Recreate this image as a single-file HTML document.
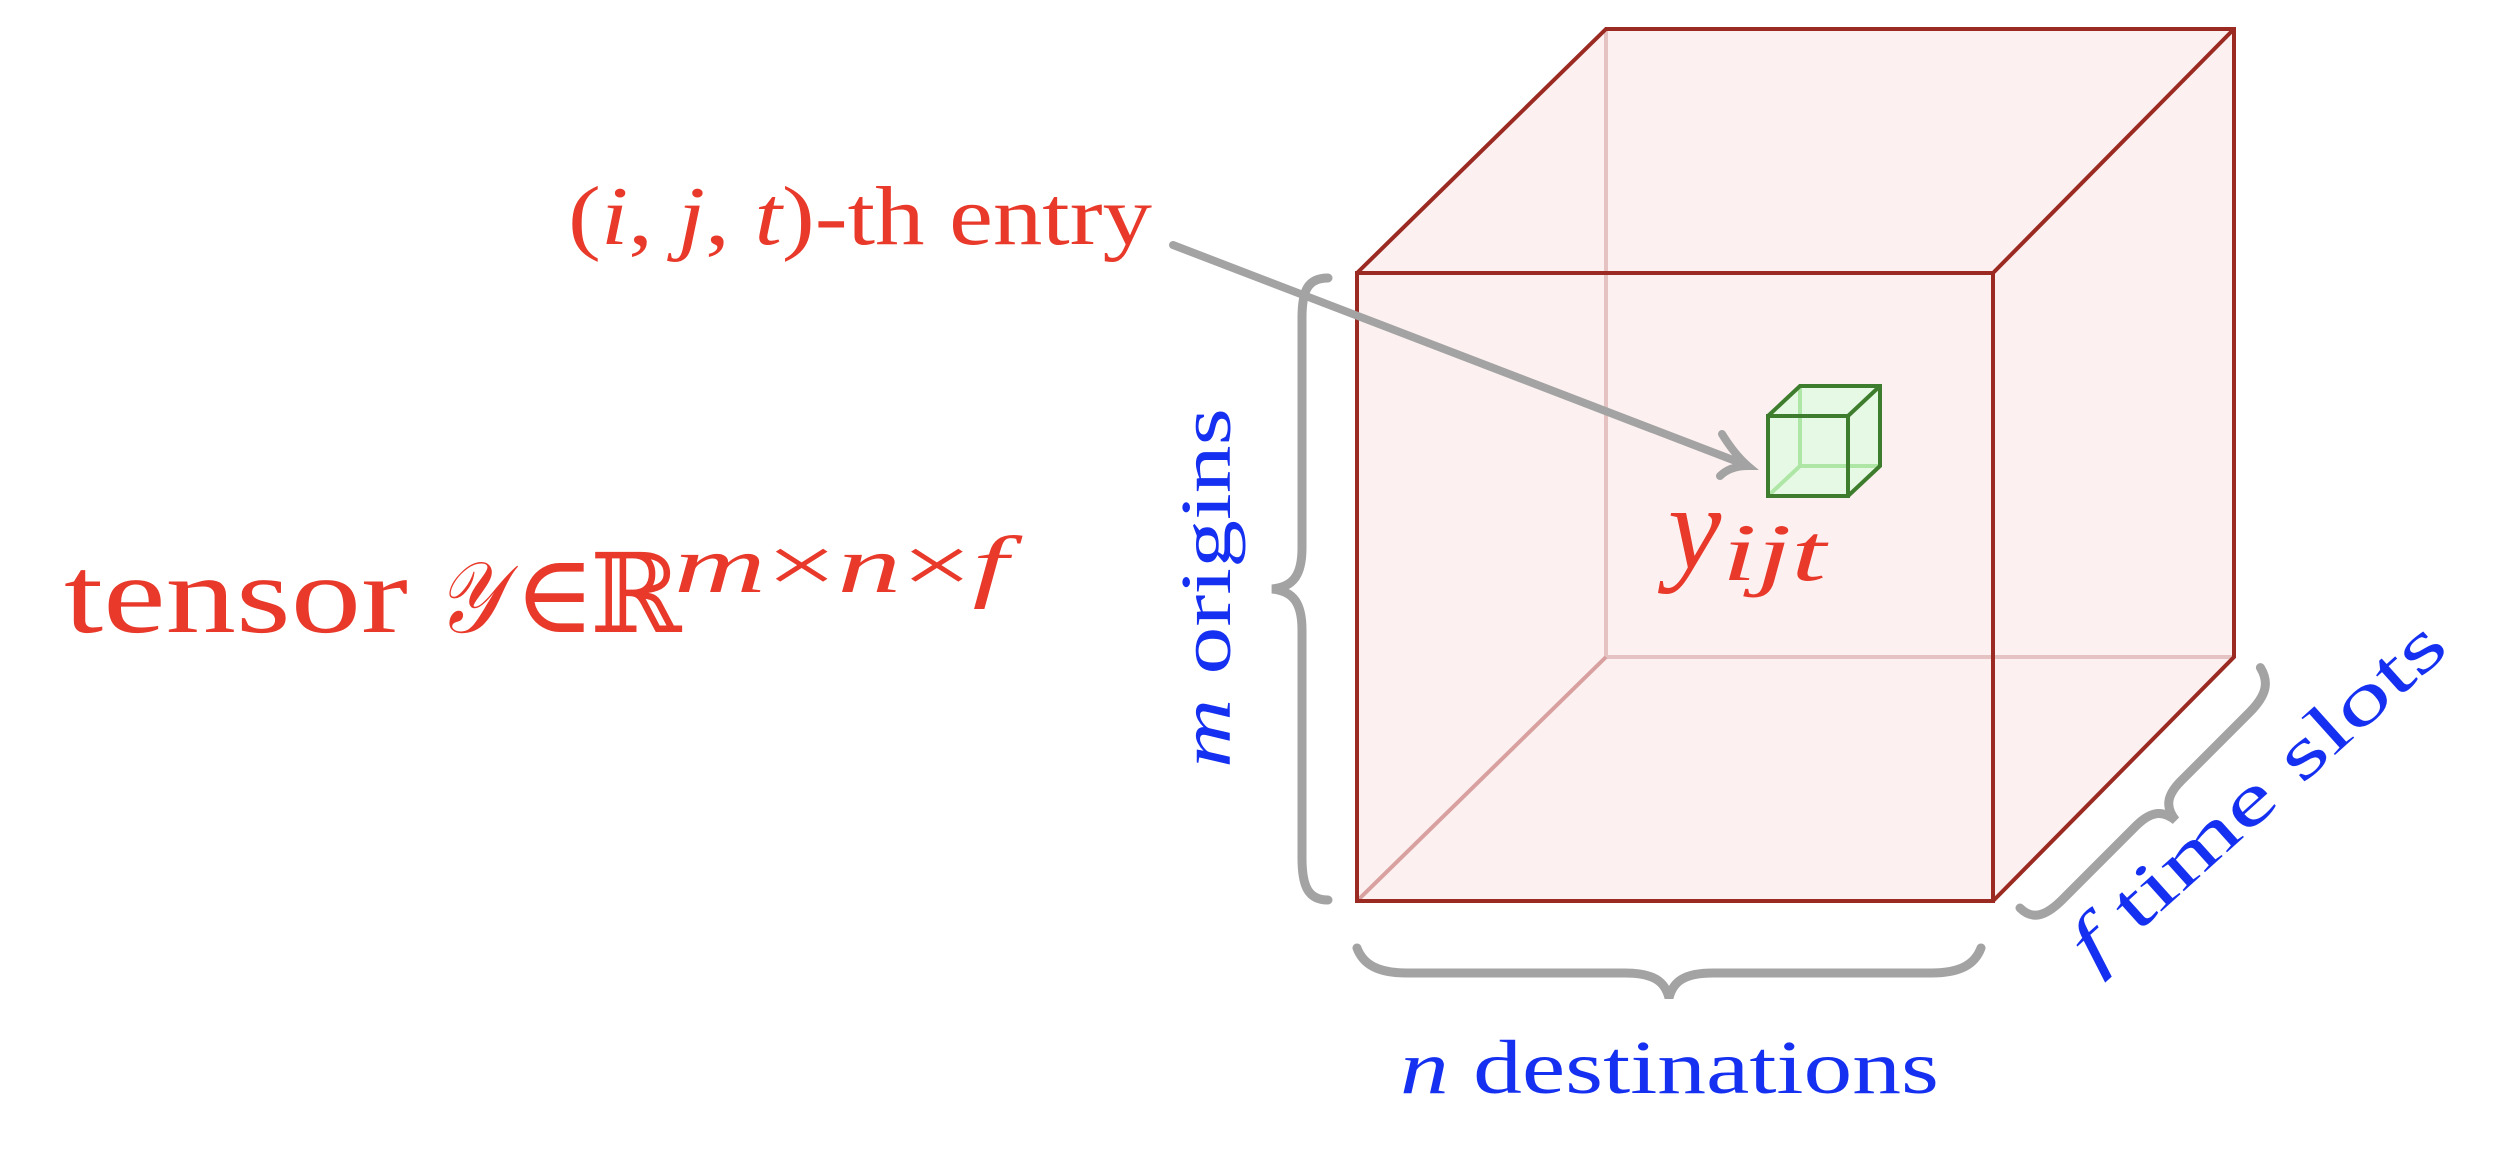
<!DOCTYPE html>
<html><head><meta charset="utf-8"><style>
html,body{margin:0;padding:0;background:#fff;}
svg{display:block;}
text{font-family:"Liberation Serif","DejaVu Serif",serif;}
</style></head><body>
<svg width="2510" height="1156" viewBox="0 0 2510 1156" xmlns="http://www.w3.org/2000/svg">
<polygon points="1357,273 1606,29 2234,29 2234,657 1993,901 1357,901" fill="#fcf0f0"/>
<line x1="1606" y1="29" x2="1606" y2="657" stroke="#e6c3c3" stroke-width="4"/>
<line x1="1606" y1="657" x2="2234" y2="657" stroke="#e6c3c3" stroke-width="4"/>
<line x1="1606" y1="657" x2="1357" y2="901" stroke="#d9a0a0" stroke-width="4"/>
<g stroke="#9b2a22" stroke-width="4" fill="none">
<rect x="1357" y="273" width="636" height="628"/>
<polyline points="1357,273 1606,29 2234,29 2234,657 1993,901"/>
<line x1="1993" y1="273" x2="2234" y2="29"/>
</g>
<polygon points="1768,416 1800,386 1880,386 1880,466 1848,496 1768,496" fill="#e6f9e4"/>
<g stroke="#aee6a6" stroke-width="4" fill="none">
<line x1="1800" y1="386" x2="1800" y2="466"/><line x1="1800" y1="466" x2="1880" y2="466"/><line x1="1800" y1="466" x2="1768" y2="496"/>
</g>
<g stroke="#3f7d2e" stroke-width="4" fill="none">
<rect x="1768" y="416" width="80" height="80"/>
<polyline points="1768,416 1800,386 1880,386 1880,466 1848,496"/>
<line x1="1848" y1="416" x2="1880" y2="386"/>
</g>
<g stroke="#a3a3a3" stroke-width="8" fill="none" stroke-linecap="round">
<line x1="1173" y1="245" x2="1746" y2="465"/>
<path d="M1722,434 Q1735,455 1748,466 Q1730,466 1720,476"/>
</g>
<g stroke="#a3a3a3" stroke-width="9" fill="none" stroke-linecap="round">
<path transform="translate(1328,278) rotate(90)" d="M0,0 C0,20 12,26 40,26 L270,26 C296,26 309,34 311,56 C313,34 326,26 352,26 L580,26 C608,26 622,20 622,0"/>
<path transform="translate(1357,948)" d="M0,0 C6,16 20,25 50,25 L268,25 C296,25 308,33 312,50 C316,33 328,25 356,25 L574,25 C604,25 618,16 624,0"/>
<path transform="translate(2020,908) rotate(-45)" d="M0,0 C0,16 10,24 36,24 L140,24 C162,24 170,32 172,48 C174,32 182,24 204,24 L300,24 C326,24 336,16 340,0"/>
</g>
<text x="568" y="244" font-size="84" fill="#e8392a" textLength="584" lengthAdjust="spacingAndGlyphs">(<tspan font-style="italic">i</tspan>, <tspan font-style="italic">j</tspan>, <tspan font-style="italic">t</tspan>)-th entry</text>
<text x="64" y="632" font-size="110" fill="#e8392a" textLength="344" lengthAdjust="spacingAndGlyphs">tensor</text>
<text x="436" y="632" font-size="100" fill="#e8392a" font-style="italic" textLength="64" lengthAdjust="spacingAndGlyphs">𝒴</text>
<text x="514" y="632" font-size="110" fill="#e8392a">∈</text>
<text x="590" y="632" font-size="110" fill="#e8392a">ℝ</text>
<text x="674" y="592" font-size="80" fill="#e8392a" font-style="italic" textLength="334" lengthAdjust="spacingAndGlyphs">m<tspan font-style="normal">×</tspan>n<tspan font-style="normal">×</tspan>f</text>
<text x="1668" y="568" font-size="120" font-style="italic" fill="#e8392a">y</text>
<text x="1722" y="580" font-size="82" font-style="italic" fill="#e8392a" textLength="104" lengthAdjust="spacingAndGlyphs">ijt</text>
<text transform="translate(1230,768) rotate(-90)" font-size="72" fill="#1530f0" textLength="360" lengthAdjust="spacingAndGlyphs"><tspan font-style="italic">m</tspan> origins</text>
<text x="1400" y="1093" font-size="76" fill="#1530f0" textLength="539" lengthAdjust="spacingAndGlyphs"><tspan font-style="italic">n</tspan> destinations</text>
<text transform="translate(2094,972) rotate(-42)" font-size="72" fill="#1530f0" textLength="480" lengthAdjust="spacingAndGlyphs"><tspan font-style="italic">f</tspan> time slots</text>
</svg>
</body></html>
